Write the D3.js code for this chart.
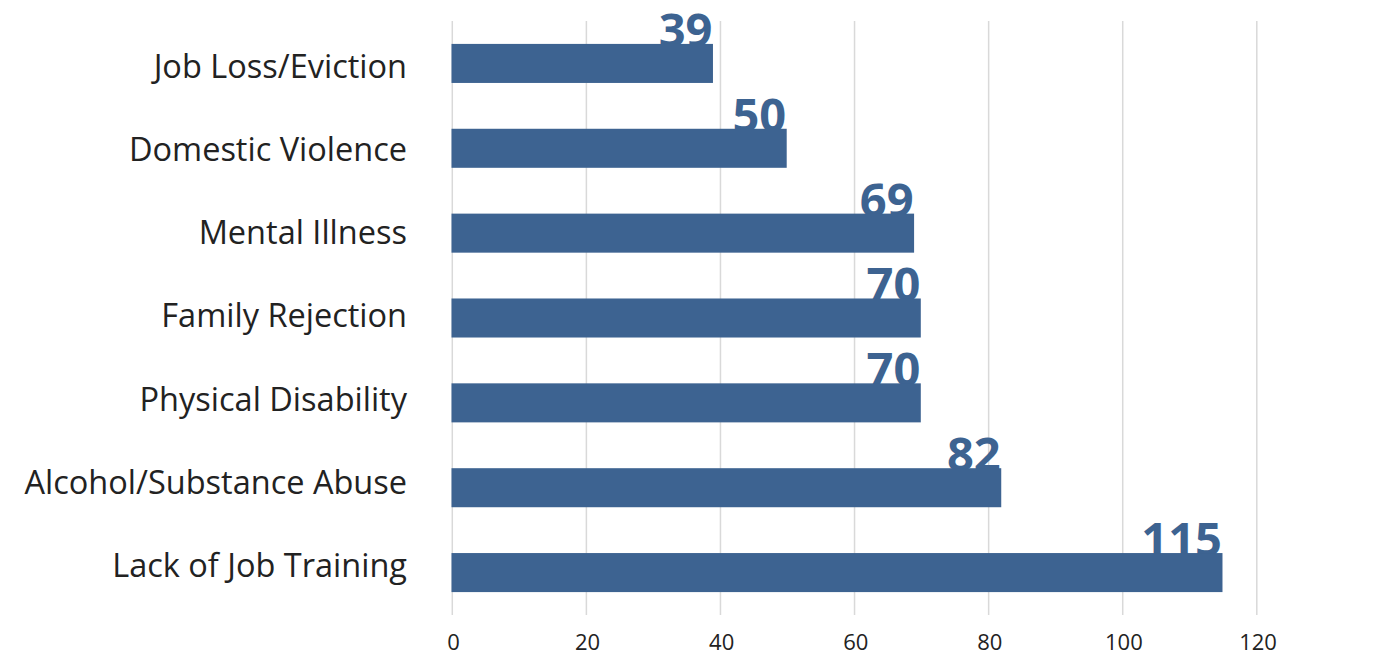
<!DOCTYPE html>
<html>
<head>
<meta charset="utf-8">
<script src="https://cdn.jsdelivr.net/npm/d3@7"></script>
<style>
  body { margin: 0; background: #fff; }
  svg { display: block; }
</style>
</head>
<body>
<svg id="chart" width="1379" height="655"></svg>
<script>
// data, top bar first
var categories = ["Job Loss/Eviction", "Domestic Violence", "Mental Illness", "Family Rejection",
                  "Physical Disability", "Alcohol/Substance Abuse", "Lack of Job Training"];
var counts = [39, 50, 69, 70, 70, 82, 115];
var tickValues = [0, 20, 40, 60, 80, 100, 120];

var barColor = "#3d6391";
var font = "'Open Sans', sans-serif";

var svg = d3.select("#chart");

var x = d3.scaleLinear().domain([0, 120]).range([451.5, 1256]);
var y = d3.scaleBand().domain(categories).range([21, 615]).paddingInner(0.54).paddingOuter(0.27);
// category labels sit on a slightly tighter spacing than the bars
var yLabel = d3.scalePoint().domain(categories).range([77.5, 577]);

// gridlines
svg.append("g").selectAll("line")
  .data(tickValues)
  .enter().append("line")
  .attr("x1", function(d) { return x(d) + 0.8; })
  .attr("x2", function(d) { return x(d) + 0.8; })
  .attr("y1", 21).attr("y2", 615)
  .attr("stroke", "#d9d9d9").attr("stroke-width", 1.5);

// tick labels
svg.append("g").selectAll("text")
  .data(tickValues)
  .enter().append("text")
  .attr("x", function(d) { return x(d) + 2; })
  .attr("y", 650)
  .attr("text-anchor", "middle")
  .style("font-family", font).style("font-size", "22px").style("fill", "#222")
  .text(function(d) { return d; });

// category labels
svg.append("g").selectAll("text")
  .data(categories)
  .enter().append("text")
  .attr("x", 407)
  .attr("y", function(d) { return yLabel(d); })
  .attr("text-anchor", "end")
  .style("font-family", font).style("font-size", "32.5px").style("fill", "#222")
  .text(function(d) { return d; });

// value labels (under the bars)
svg.append("g").selectAll("text")
  .data(categories)
  .enter().append("text")
  .attr("x", function(d, i) { return x(counts[i]) - 0.5; })
  .attr("y", function(d) { return y(d) + 3; })
  .attr("text-anchor", "end")
  .style("font-family", font).style("font-size", "47px").style("font-weight", "bold")
  .style("fill", barColor)
  .text(function(d, i) { return counts[i]; });

// bars
svg.append("g").selectAll("rect")
  .data(categories)
  .enter().append("rect")
  .attr("x", x(0))
  .attr("y", function(d) { return y(d); })
  .attr("width", function(d, i) { return x(counts[i]) - x(0); })
  .attr("height", y.bandwidth())
  .attr("fill", barColor);
</script>
</body>
</html>
